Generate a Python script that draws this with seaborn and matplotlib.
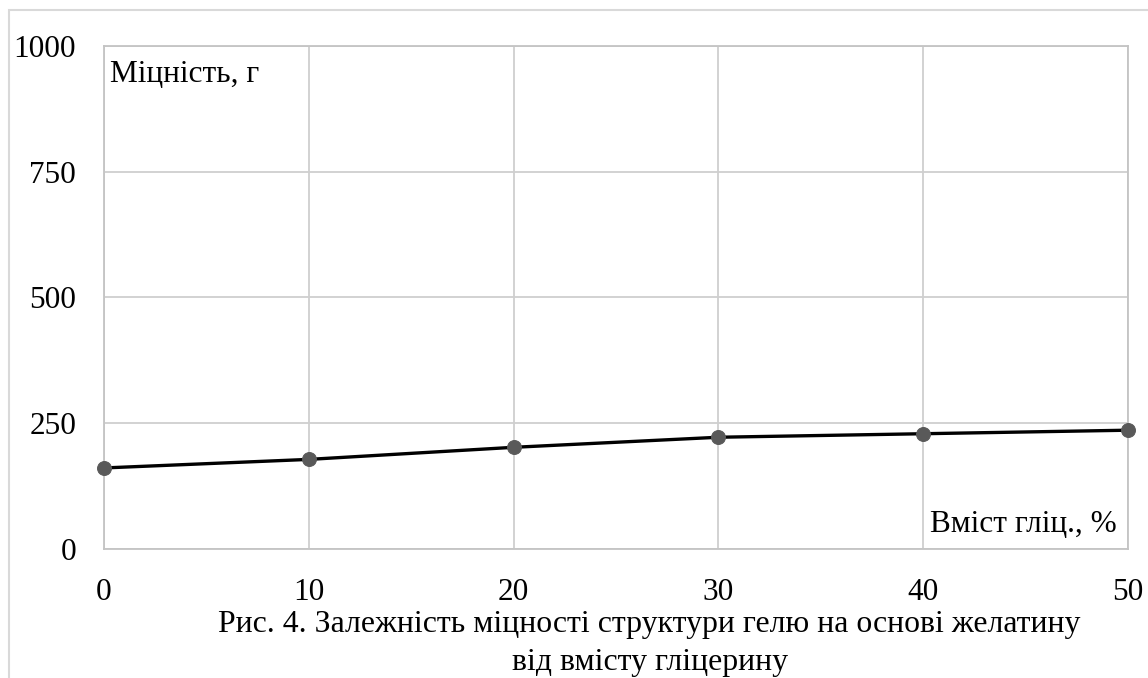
import matplotlib
matplotlib.use("Agg")
import matplotlib.pyplot as plt
import seaborn as sns
import pandas as pd
from matplotlib.patches import Rectangle

# data
glycerin = [0, 10, 20, 30, 40, 50]
strength = [161, 178, 202, 222, 229, 236]
x_ticks = [0, 10, 20, 30, 40, 50]
y_ticks = [0, 250, 500, 750, 1000]

sns.set_style("whitegrid")
plt.rcParams["font.family"] = ["Liberation Serif", "DejaVu Serif"]
plt.rcParams["font.size"] = 22.5
plt.rcParams["text.color"] = "black"
plt.rcParams["xtick.color"] = "black"
plt.rcParams["ytick.color"] = "black"

df = pd.DataFrame({"glycerin": glycerin, "strength": strength})

fig = plt.figure(figsize=(11.48, 6.78), dpi=100)
ax = fig.add_axes([0.0906, 0.1903, 0.8920, 0.7423])

sns.lineplot(
    data=df, x="glycerin", y="strength", ax=ax,
    color="black", linewidth=2.4,
    marker="o", markersize=10, markerfacecolor="#595959",
    markeredgecolor="#595959", clip_on=False, zorder=5
)

ax.set_xlim(0, 50)
ax.set_ylim(0, 1000)
ax.set_xticks(x_ticks)
ax.set_yticks(y_ticks)
ax.set_xlabel("")
ax.set_ylabel("")
ax.grid(True, color="#cfcfcf", linewidth=1.3)
for s in ax.spines.values():
    s.set_color("#c4c4c4")
    s.set_linewidth(1.3)
ax.tick_params(axis="y", length=0, pad=20, labelsize=22.5, labelcolor="black")
ax.tick_params(axis="x", length=0, pad=21, labelsize=22.5, labelcolor="black")

ax.text(0.006, 0.9285, "Міцність, г", transform=ax.transAxes,
        ha="left", va="baseline", fontsize=22.5, color="black")
ax.text(0.9893, 0.0344, "Вміст гліц., %", transform=ax.transAxes,
        ha="right", va="baseline", fontsize=22.5, color="black")

# caption
fig.text(0.5657, 0.0678, "Рис. 4. Залежність міцності структури гелю на основі желатину",
         ha="center", va="baseline", fontsize=22.9, color="black")
fig.text(0.5662, 0.0118, "від вмісту гліцерину",
         ha="center", va="baseline", fontsize=22.9, color="black")

# outer chart frame
fig.patches.append(Rectangle((9 / 1148, -0.1), 1.2, (668 / 678) + 0.1,
                             transform=fig.transFigure, fill=False,
                             edgecolor="#d9d9d9", linewidth=1.5))

fig.savefig("out.png", dpi=100)
